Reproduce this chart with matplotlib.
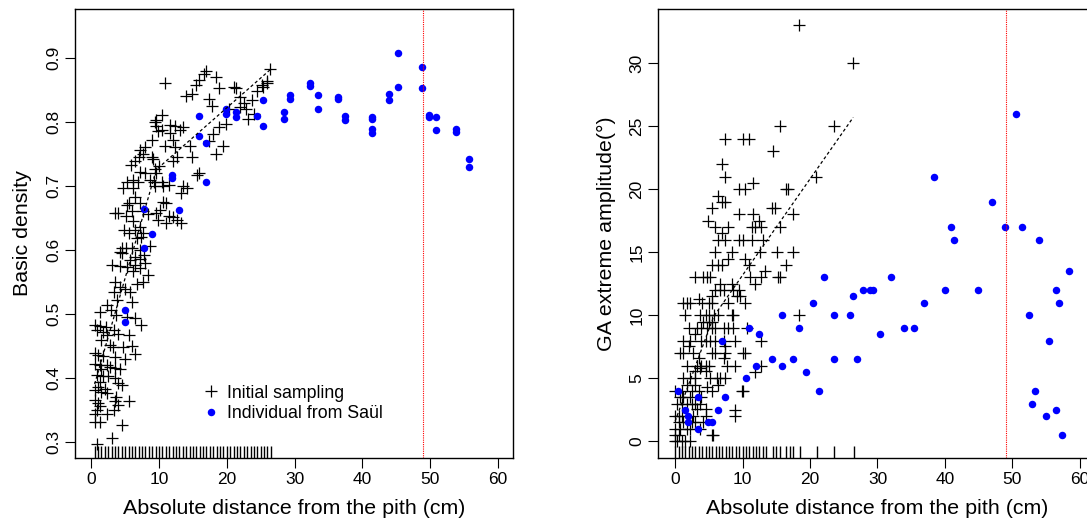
import numpy as np
import matplotlib
matplotlib.use("Agg")
import matplotlib.pyplot as plt

plt.rcParams['font.family'] = ['Liberation Sans', 'DejaVu Sans']

# basic density, initial sampling (distance cm, density)
dens_init_x = [26.4, 25.9, 25.2, 25.4, 23.7, 21.9, 22.8, 23.2, 21.0, 21.4, 22.0, 18.9, 18.4, 16.9, 16.6,
               15.9, 15.5, 14.8, 14.0, 17.4, 17.8, 20.4, 19.9, 18.9, 17.9, 17.4, 18.4, 19.4, 15.9, 15.6,
               14.8, 14.5, 13.5, 13.1, 12.4, 11.6, 10.9, 10.5, 9.6, 9.4, 10.4, 9.6, 9.9, 11.6, 12.0,
               12.4, 10.9, 8.9, 7.9, 7.2, 7.7, 7.1, 6.4, 5.9, 8.9, 9.1, 10.0, 9.4, 9.6, 10.4,
               11.4, 10.6, 12.1, 12.6, 13.5, 14.1, 13.2, 7.2, 7.9, 8.7, 9.2, 9.4, 6.1, 6.9, 5.2,
               4.7, 3.5, 4.0, 6.2, 6.5, 5.6, 5.2, 6.0, 7.2, 7.7, 8.4, 10.6, 11.1, 10.1, 11.4,
               12.1, 12.6, 13.3, 11.1, 9.6, 9.9, 5.1, 4.8, 5.5, 6.2, 6.5, 6.7, 7.2, 7.7, 7.4,
               4.6, 5.1, 6.0, 4.2, 7.2, 7.8, 8.6, 6.5, 24.5, 26.0, 22.5, 24.0,
               4.5, 5.7, 6.4, 7.2, 7.9, 3.0, 4.2, 5.2, 6.2, 7.2, 8.4, 7.7, 6.7, 3.5, 4.2,
               5.0, 5.7, 6.0, 3.3, 3.8, 2.3, 2.9, 1.3, 3.7, 5.2, 6.5, 7.4, 0.5, 1.3, 2.2,
               0.8, 1.8, 3.3, 4.0, 5.5, 2.3, 1.5, 2.8, 3.2, 4.7, 6.0, 6.5, 5.0, 3.5, 0.5,
               1.0, 1.8, 0.5, 1.3, 2.3, 2.8, 3.5, 4.2, 1.5, 0.8, 1.8, 2.5, 3.5, 4.0, 4.5,
               1.3, 1.0, 2.0, 1.5, 0.5, 2.3, 3.7, 3.5, 4.0, 5.5, 0.5, 1.0, 1.3, 0.8, 0.5,
               2.3, 3.3, 0.5, 1.3, 4.5, 3.0, 0.8]
dens_init_y = [0.882, 0.863, 0.857, 0.854, 0.834, 0.823, 0.819, 0.804, 0.854, 0.852, 0.839, 0.852, 0.870, 0.879, 0.875,
               0.865, 0.858, 0.843, 0.840, 0.835, 0.825, 0.820, 0.796, 0.791, 0.780, 0.770, 0.750, 0.762, 0.720, 0.717,
               0.745, 0.762, 0.792, 0.787, 0.793, 0.795, 0.860, 0.811, 0.803, 0.799, 0.787, 0.793, 0.785, 0.782, 0.771,
               0.761, 0.762, 0.771, 0.761, 0.756, 0.750, 0.745, 0.738, 0.733, 0.745, 0.741, 0.730, 0.726, 0.720, 0.706,
               0.701, 0.699, 0.738, 0.745, 0.699, 0.696, 0.688, 0.722, 0.720, 0.709, 0.705, 0.699, 0.709, 0.706, 0.705,
               0.696, 0.657, 0.657, 0.696, 0.683, 0.673, 0.669, 0.661, 0.673, 0.660, 0.655, 0.675, 0.673, 0.662, 0.652,
               0.651, 0.646, 0.642, 0.642, 0.657, 0.647, 0.652, 0.631, 0.626, 0.644, 0.631, 0.618, 0.636, 0.626, 0.619,
               0.602, 0.602, 0.602, 0.597, 0.600, 0.592, 0.606, 0.589, 0.848, 0.860, 0.829, 0.812,
               0.594, 0.584, 0.576, 0.586, 0.579, 0.576, 0.575, 0.573, 0.566, 0.571, 0.560, 0.550, 0.547, 0.550, 0.542,
               0.538, 0.534, 0.519, 0.534, 0.522, 0.514, 0.506, 0.503, 0.498, 0.495, 0.493, 0.482, 0.482, 0.480, 0.479,
               0.475, 0.472, 0.475, 0.469, 0.467, 0.467, 0.459, 0.451, 0.448, 0.448, 0.449, 0.437, 0.429, 0.433, 0.438,
               0.435, 0.434, 0.422, 0.420, 0.420, 0.416, 0.415, 0.413, 0.413, 0.404, 0.403, 0.402, 0.399, 0.391, 0.389,
               0.394, 0.386, 0.383, 0.378, 0.381, 0.376, 0.370, 0.363, 0.357, 0.364, 0.365, 0.360, 0.355, 0.350, 0.344,
               0.344, 0.350, 0.331, 0.330, 0.326, 0.305, 0.297]

# basic density, individual from Saul
dens_saul_x = [25.4, 24.4, 25.4, 28.4, 28.4, 29.4, 29.4, 32.3, 32.3, 33.4, 33.4, 36.4, 36.4, 37.4, 37.4,
               41.4, 41.4, 41.4, 41.4, 43.9, 43.9, 45.3, 45.3, 48.85, 48.85, 49.8, 49.8, 50.9, 50.9, 53.8,
               53.8, 55.8, 55.8, 15.9, 15.9, 16.9, 16.9, 19.9, 19.9, 21.4, 21.4, 11.9, 11.9, 12.9, 7.8,
               8.9, 7.8, 5.0, 5.0]
dens_saul_y = [0.834, 0.809, 0.793, 0.815, 0.804, 0.842, 0.835, 0.860, 0.856, 0.842, 0.819, 0.839, 0.835, 0.809, 0.802,
               0.807, 0.804, 0.789, 0.782, 0.843, 0.834, 0.908, 0.854, 0.886, 0.852, 0.810, 0.808, 0.807, 0.787, 0.788,
               0.784, 0.742, 0.729, 0.809, 0.778, 0.766, 0.705, 0.819, 0.812, 0.815, 0.808, 0.717, 0.712, 0.662, 0.664,
               0.625, 0.602, 0.505, 0.487]

dens_fit_x = [0.5, 9.6, 26.5]
dens_fit_y = [0.39, 0.725, 0.882]

# grain angle extreme amplitude, initial sampling
ga_init_x = [18.4, 23.5, 15.5, 7.4, 10.0, 10.9, 14.5, 6.9, 7.4, 20.9, 11.5, 9.4, 10.4, 16.5, 16.8,
             6.4, 6.9, 7.4, 5.4, 14.3, 14.8, 9.4, 11.5, 17.4, 4.9, 12.5, 5.9, 7.9, 11.4, 11.9,
             12.8, 15.5, 6.9, 6.4, 7.4, 9.5, 10.1, 11.4, 13.0, 5.9, 8.4, 12.6, 15.1, 17.4, 26.4,
             6.4, 6.9, 5.4, 7.9, 10.4, 10.9, 13.3, 16.5, 3.0, 4.2, 4.7, 5.2, 11.1, 12.8, 15.3,
             11.9, 6.7, 8.4, 15.5, 18.4, 10.1, 5.6,
             5.9, 6.7, 7.2, 8.6, 9.4, 5.4, 9.1, 9.6, 1.2, 1.7, 2.2, 3.5, 4.0, 5.0, 5.4, 7.9, 10.4,
             1.5, 3.7, 4.5, 5.0, 5.7, 6.4, 8.4, 8.6, 4.2, 5.0, 5.4,
             2.0, 3.2, 3.9, 4.7, 5.4, 5.9, 7.2, 7.9, 8.6, 10.6, 3.0,
             1.2, 2.2, 3.9, 4.5, 5.2, 5.9, 7.2, 8.9, 12.8, 2.0, 7.4,
             0.7, 1.2, 2.7, 5.4, 5.9, 7.4, 10.1, 10.4, 3.5, 7.2,
             1.7, 3.2, 3.9, 4.5, 5.0, 7.7, 8.9, 12.8, 3.0, 3.7, 4.5, 11.9,
             1.2, 2.2, 3.0, 5.2, 6.2, 6.7, 7.4, 1.7, 3.0, 4.7, 6.4,
             0.0, 1.0, 2.5, 3.5, 5.4, 9.9, 0.7, 1.2, 2.2, 3.9,
             0.25, 1.0, 1.7, 2.5, 3.0, 3.7, 3.2, 4.5, 8.9,
             0.0, 0.5, 1.0, 2.7, 4.5, 8.9, 0.5, 1.2, 2.5, 3.0, 4.2,
             0.0, 0.7, 1.7, 2.2, 3.7, 0.0, 0.5, 5.4, 0.0, 0.25, 1.0, 1.5, 2.2]
ga_init_y = [33, 25, 25, 24, 24, 24, 23, 22, 21, 21, 20.5, 20, 20, 20, 20,
             19.5, 19, 19, 18.5, 18.5, 18.5, 18, 18, 18, 17.5, 17.5, 17, 17, 17, 17,
             17, 17, 16.5, 16, 16, 16, 16, 16, 16, 15, 15, 15, 15, 15, 30,
             14, 14, 14, 14.5, 14.5, 14, 13.5, 14, 13, 13, 13, 13, 13, 13, 13,
             12.5, 12.5, 12.5, 13, 10, 4, 0.5,
             12, 12, 12, 12, 12, 11.5, 11.5, 11.5, 11, 11, 11, 11.3, 11, 11, 11, 11, 11,
             10, 10, 10, 10, 10, 10, 10, 10, 9.5, 9.5, 9.5,
             9, 9, 9, 9, 9, 9, 9, 9, 9, 9, 8.5,
             8, 8, 8, 8, 8, 8, 8, 8, 8, 7.6, 7.6,
             7, 7, 7, 7, 7, 7, 7, 7, 6.6, 6.6,
             6, 6, 6, 6, 6, 6, 6, 6, 5.6, 5.8, 5.6, 5.5,
             5, 5, 5, 5, 5, 5, 5, 4.5, 4.5, 4.3, 4.5,
             4, 4, 4, 4, 4, 4, 3.5, 3.5, 3.5, 3.5,
             3, 3, 3, 3, 3, 3, 2.6, 2.6, 2.5,
             2, 2, 2, 2, 2, 2, 1.5, 1.5, 1.5, 1.5, 1.5,
             1, 1, 1, 1, 1, 0.5, 0.5, 0.5, 0, 0, 0, 0, 0]

# grain angle extreme amplitude, individual from Saul
ga_saul_x = [22.0, 20.5, 23.5, 15.9, 18.4, 11.0, 12.5, 7.0, 14.4, 23.5, 17.4, 15.9, 12.0, 19.4, 10.5,
             21.4, 0.4, 1.4, 1.9, 1.9, 6.4, 3.4, 7.4, 3.4, 4.9, 5.4,
             25.9, 26.4, 27.9, 28.9, 29.4, 31.95, 26.9, 30.4, 33.9, 35.4, 36.9, 39.95, 44.9, 52.4,
             56.4, 58.4, 56.9, 55.4, 53.4, 52.9, 56.4, 55.0, 57.4,
             50.5, 38.4, 47.0, 40.9, 41.4, 48.9, 51.4, 53.9]
ga_saul_y = [13, 11, 10, 10, 9, 9, 8.5, 8, 6.5, 6.5, 6.5, 6, 6, 5.5, 5,
             4, 4, 2.5, 2, 1.5, 2.5, 3.5, 3.5, 1, 1.5, 1.5,
             10, 11.5, 12, 12, 12, 13, 6.5, 8.5, 9, 9, 11, 12, 12, 10,
             12, 13.5, 11, 8, 4, 3, 2.5, 2, 0.5,
             26, 21, 19, 17, 16, 17, 17, 16]

ga_fit_x = [0.0, 5.7, 26.4]
ga_fit_y = [1.6, 9.9, 25.7]

pith_limit = 49


def panel(ax, init_x, init_y, saul_x, saul_y, fit_x, fit_y, ylab):
    ax.plot(init_x, init_y, ls='none', marker='+', ms=8.5, mew=0.9, color='black',
            label='Initial sampling')
    ax.plot(saul_x, saul_y, ls='none', marker='o', ms=5.4, mew=0, color='#0000ff',
            label='Individual from Saül')
    ax.plot(fit_x, fit_y, ls=(0, (2.5, 2)), lw=0.9, color='black')
    ax.axvline(pith_limit, color='red', ls=(0, (1, 1)), lw=0.8)
    rug = np.unique(np.round(np.array(init_x) * 2) / 2)
    ax.vlines(rug, 0, 0.027, transform=ax.get_xaxis_transform(), color='black', lw=1.0)
    ax.set_xticks([0, 10, 20, 30, 40, 50, 60])
    ax.tick_params(length=7, width=0.8, labelsize=12.5, pad=3)
    for s in ax.spines.values():
        s.set_linewidth(1.0)
    ax.set_xlabel('Absolute distance from the pith (cm)', fontsize=15.4, labelpad=9)
    ax.set_ylabel(ylab, fontsize=15.4, labelpad=10)


fig = plt.figure(figsize=(10.87, 5.22), dpi=100)
ax1 = fig.add_axes([0.069, 0.1226, 0.4027, 0.8602])
ax2 = fig.add_axes([0.6056, 0.1226, 0.4027, 0.8602])

panel(ax1, dens_init_x, dens_init_y, dens_saul_x, dens_saul_y, dens_fit_x, dens_fit_y, 'Basic density')
ax1.set_xlim(-2.4, 62.2)
ax1.set_ylim(0.2745, 0.976)
ax1.set_yticks([0.3, 0.4, 0.5, 0.6, 0.7, 0.8, 0.9])
ax1.set_yticklabels(['0.3', '0.4', '0.5', '0.6', '0.7', '0.8', '0.9'], rotation=90, va='center')
ax1.legend(loc='lower left', bbox_to_anchor=(0.27, 0.06), frameon=False, fontsize=12.8,
           handlelength=1.0, handletextpad=0.4, labelspacing=0.2, borderpad=0)

panel(ax2, ga_init_x, ga_init_y, ga_saul_x, ga_saul_y, ga_fit_x, ga_fit_y, 'GA extreme amplitude(°)')
ax2.set_xlim(-2.5, 62.4)
ax2.set_ylim(-1.32, 34.3)
ax2.set_yticks([0, 5, 10, 15, 20, 25, 30])
ax2.set_yticklabels(['0', '5', '10', '15', '20', '25', '30'], rotation=90, va='center')

fig.savefig('out.png', dpi=100)
